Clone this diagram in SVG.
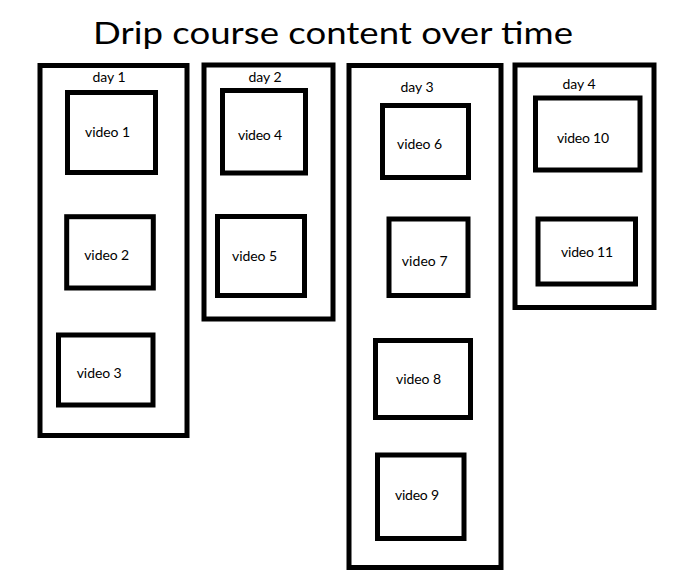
<svg xmlns="http://www.w3.org/2000/svg" width="674" height="581" viewBox="0 0 674 581">
<style>
.box{fill:none;stroke:#000;stroke-width:5}
.t{font-family:Lato,"Open Sans","Liberation Sans",sans-serif;font-size:14px;fill:#000;text-anchor:middle}
.title{font-family:Lato,"Open Sans","Liberation Sans",sans-serif;font-size:30px;fill:#000}
</style>
<rect width="674" height="581" fill="#fff"/>
<text class="title" x="93" y="44" textLength="480" lengthAdjust="spacingAndGlyphs">Drip course content over time</text>
<g id="day1">
<rect class="box" x="40" y="65.5" width="147" height="370"/>
<text class="t" x="109" y="82">day 1</text>
</g>
<g id="video1"><rect class="box" x="67.5" y="92.5" width="88" height="80"/><text class="t" x="107.5" y="137" textLength="45">video 1</text></g>
<g id="video2"><rect class="box" x="66.7" y="216.7" width="86.6" height="71.3"/><text class="t" x="106.7" y="259.5" textLength="45">video 2</text></g>
<g id="video3"><rect class="box" x="58.5" y="335" width="94.5" height="70"/><text class="t" x="99.2" y="377.5" textLength="45">video 3</text></g>
<g id="day2">
<rect class="box" x="204" y="65" width="129" height="254"/>
<text class="t" x="265" y="82">day 2</text>
</g>
<g id="video4"><rect class="box" x="222.5" y="90.5" width="83" height="82.5"/><text class="t" x="260" y="139.5" textLength="44">video 4</text></g>
<g id="video5"><rect class="box" x="217.5" y="216.5" width="87" height="79"/><text class="t" x="254.5" y="261" textLength="45">video 5</text></g>
<g id="day3">
<rect class="box" x="349" y="65.5" width="152" height="502"/>
<text class="t" x="417" y="92">day 3</text>
</g>
<g id="video6"><rect class="box" x="382.5" y="105.5" width="86" height="72"/><text class="t" x="419.5" y="148.5" textLength="45">video 6</text></g>
<g id="video7"><rect class="box" x="389" y="219" width="79" height="76.5"/><text class="t" x="424.7" y="266.2" textLength="46">video 7</text></g>
<g id="video8"><rect class="box" x="375.5" y="340.5" width="95" height="77"/><text class="t" x="418.5" y="383.5" textLength="45">video 8</text></g>
<g id="video9"><rect class="box" x="377.5" y="455" width="86.5" height="83.5"/><text class="t" x="417" y="500.2" textLength="44">video 9</text></g>
<g id="day4">
<rect class="box" x="515" y="65" width="139" height="242.5"/>
<text class="t" x="579" y="88.5">day 4</text>
</g>
<g id="video10"><rect class="box" x="535.5" y="98" width="104.5" height="72"/><text class="t" x="583" y="142.5" textLength="52">video 10</text></g>
<g id="video11"><rect class="box" x="538" y="219" width="97.5" height="65"/><text class="t" x="587" y="257.2" textLength="52">video 11</text></g>
<g id="connectors"></g>
</svg>
